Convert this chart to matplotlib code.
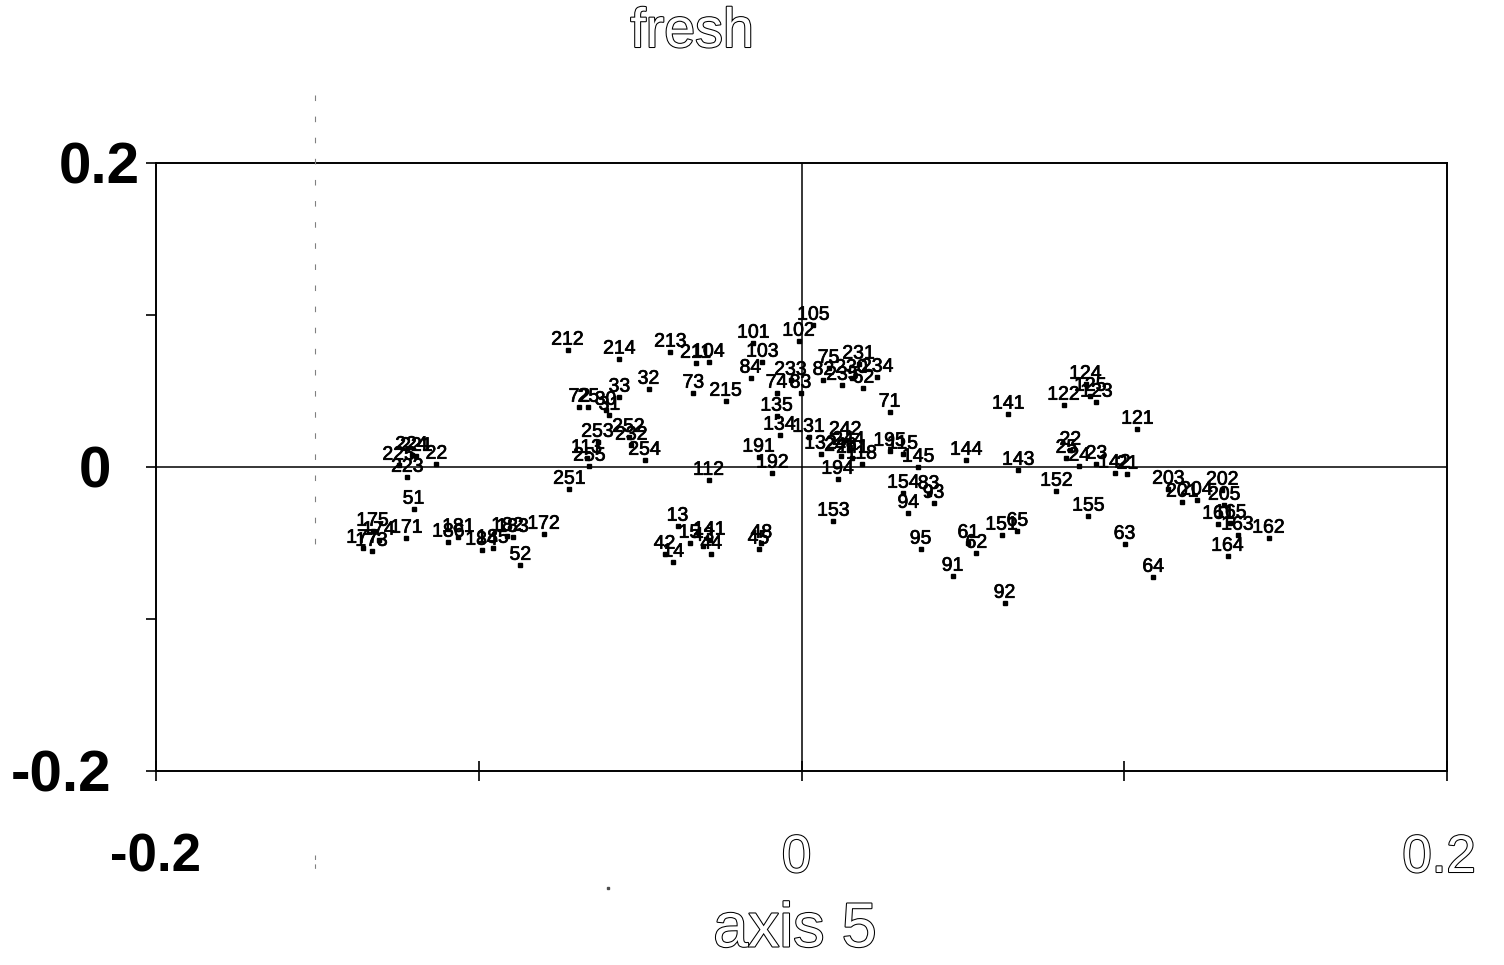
import matplotlib
matplotlib.use('Agg')
import matplotlib.pyplot as plt
import matplotlib.patheffects as pe
import matplotlib.transforms as mtransforms
from matplotlib.lines import Line2D

plt.rcParams['font.family'] = ['Liberation Sans', 'DejaVu Sans']

# ---------------- data ----------------
labels = [
    "22", "223", "224", "221", "225", "51", "171", "175", "174", "177", "173",
    "181", "186", "184", "185", "182", "183", "52", "172", "251",
    "212", "214", "213", "211", "104", "101", "103", "84", "33", "32", "73", "215",
    "72", "25", "30", "31", "253", "252", "232", "113", "255", "254", "112",
    "191", "192", "134", "135", "74", "233", "83", "102", "105",
    "13", "42", "14", "15", "141", "44", "43", "48", "45",
    "75", "231", "234", "82", "235", "62", "230", "71",
    "131", "242", "132", "246", "241", "244", "118", "195", "115", "194",
    "145", "144", "143", "141", "153", "154", "83", "93", "94", "95", "91", "92",
    "61", "62", "151", "65", "152", "155", "22", "25", "24", "23", "142", "21",
    "121", "122", "123", "124", "125", "63", "64",
    "203", "201", "204", "202", "205", "161", "165", "163", "162", "164",
]
x_vals = [
    -0.1131, -0.1221, -0.1208, -0.1193, -0.1248, -0.1202, -0.1224, -0.1329, -0.1310, -0.1360, -0.1332,
    -0.1063, -0.1094, -0.0991, -0.0957, -0.0911, -0.0895, -0.0871, -0.0799, -0.0719,
    -0.0725, -0.0564, -0.0406, -0.0328, -0.0288, -0.0149, -0.0121, -0.0158, -0.0564, -0.0474, -0.0335, -0.0235,
    -0.0688, -0.0660, -0.0607, -0.0595, -0.0632, -0.0536, -0.0527, -0.0666, -0.0657, -0.0486, -0.0288,
    -0.0133, -0.0090, -0.0068, -0.0077, -0.0077, -0.0034, -0.0003, -0.0009, 0.0037,
    -0.0384, -0.0424, -0.0397, -0.0347, -0.0285, -0.0279, -0.0304, -0.0124, -0.0133,
    0.0084, 0.0177, 0.0235, 0.0068, 0.0127, 0.0192, 0.0155, 0.0273,
    0.0022, 0.0136, 0.0059, 0.0121, 0.0158, 0.0146, 0.0186, 0.0273, 0.0313, 0.0112,
    0.0362, 0.0511, 0.0672, 0.0641, 0.0099, 0.0316, 0.0394, 0.0409, 0.0331, 0.0369, 0.0468, 0.0629,
    0.0517, 0.0542, 0.0620, 0.0669, 0.0790, 0.0889, 0.0833, 0.0821, 0.0861, 0.0914, 0.0970, 0.1010,
    0.1041, 0.0812, 0.0914, 0.0880, 0.0895, 0.1001, 0.1090,
    0.1137, 0.1180, 0.1224, 0.1304, 0.1310, 0.1292, 0.1329, 0.1351, 0.1447, 0.1320,
]
y_vals = [
    0.0020, -0.0066, 0.0079, 0.0072, 0.0013, -0.0276, -0.0467, -0.0421, -0.0480, -0.0533, -0.0553,
    -0.0461, -0.0493, -0.0546, -0.0533, -0.0454, -0.0461, -0.0645, -0.0441, -0.0145,
    0.0770, 0.0711, 0.0757, 0.0684, 0.0691, 0.0816, 0.0691, 0.0586, 0.0461, 0.0513, 0.0487, 0.0434,
    0.0395, 0.0395, 0.0375, 0.0342, 0.0164, 0.0197, 0.0145, 0.0059, 0.0007, 0.0046, -0.0086,
    0.0066, -0.0039, 0.0211, 0.0336, 0.0487, 0.0572, 0.0487, 0.0829, 0.0934,
    -0.0388, -0.0572, -0.0625, -0.0500, -0.0480, -0.0572, -0.0520, -0.0500, -0.0539,
    0.0651, 0.0678, 0.0592, 0.0572, 0.0539, 0.0520, 0.0586, 0.0362,
    0.0197, 0.0178, 0.0086, 0.0072, 0.0059, 0.0112, 0.0020, 0.0105, 0.0086, -0.0079,
    0.0000, 0.0046, -0.0020, 0.0349, -0.0355, -0.0171, -0.0178, -0.0237, -0.0303, -0.0539, -0.0717, -0.0895,
    -0.0500, -0.0566, -0.0447, -0.0421, -0.0158, -0.0322, 0.0112, 0.0059, 0.0007, 0.0020, -0.0039, -0.0046,
    0.0250, 0.0408, 0.0428, 0.0546, 0.0467, -0.0507, -0.0724,
    -0.0145, -0.0230, -0.0217, -0.0151, -0.0250, -0.0375, -0.0368, -0.0447, -0.0467, -0.0586,
]

tick_vals = [-0.2, -0.1, 0.0, 0.1, 0.2]
x_tick_text = ["-0.2", "", "0", "", "0.2"]
y_tick_text = ["-0.2", "", "0", "", "0.2"]
title = "fresh"
x_title = "axis 5"

# ---------------- figure ----------------
W, H = 1504, 965
fig = plt.figure(figsize=(W / 100, H / 100), dpi=100)
ax = fig.add_axes([156 / W, 194 / H, 1291 / W, 608 / H])
ax.set_xlim(-0.2, 0.2)
ax.set_ylim(-0.2, 0.2)

for s in ax.spines.values():
    s.set_linewidth(1.4)
    s.set_color('black')

ax.axhline(0, color='black', lw=1.1, zorder=1)
ax.axvline(0, color='black', lw=1.1, zorder=1)

ax.plot(x_vals, y_vals, linestyle='none', marker='s', ms=2.4, color='black', zorder=3)
thick = [pe.withStroke(linewidth=0.5, foreground='black')]
for lab, xv, yv in zip(labels, x_vals, y_vals):
    ax.annotate(lab, (xv, yv), xytext=(0, 3.8), textcoords='offset points',
                ha='center', va='baseline', fontsize=14, color='black', zorder=4,
                path_effects=thick)

ax.set_xticks(tick_vals)
ax.set_xticklabels([""] * len(tick_vals))
ax.set_yticks(tick_vals)
ax.set_yticklabels([""] * len(tick_vals))
ax.tick_params(axis='x', direction='inout', length=14, width=1.2)
ax.tick_params(axis='y', direction='out', length=7, width=1.2)

hollow = [pe.withStroke(linewidth=1.5, foreground='black')]

# x tick labels
xt = ax.get_xaxis_transform()
x_shift = {"-0.2": 0, "0": -5, "0.2": -8}
for v, t in zip(tick_vals, x_tick_text):
    if not t:
        continue
    off = mtransforms.ScaledTranslation(x_shift[t] / 100, -87 / 100, fig.dpi_scale_trans)
    if t.startswith('-'):
        ax.text(v, 0, t, transform=xt + off, ha='center', va='center',
                fontsize=38, fontweight='bold', color='black')
    else:
        ax.text(v, 0, t, transform=xt + off, ha='center', va='center',
                fontsize=38, color='white', path_effects=hollow)

# y tick labels
yt = ax.get_yaxis_transform()
y_right = {"0.2": -16, "0": -45, "-0.2": -45}
for v, t in zip(tick_vals, y_tick_text):
    if not t:
        continue
    off = mtransforms.ScaledTranslation(y_right[t] / 100, -6 / 100, fig.dpi_scale_trans)
    ax.text(0, v, t, transform=yt + off, ha='right', va='center',
            fontsize=42, fontweight='bold', color='black')

fig.text(692 / W, 1 - 33 / H, title, ha='center', va='center', fontsize=40,
         color='white', path_effects=hollow)
fig.text(795 / W, 1 - 930 / H, x_title, ha='center', va='center', fontsize=45,
         color='white', path_effects=hollow)

# scan artifacts (faint dashed fold line and a speck)
fig.add_artist(Line2D([315 / W, 315 / W], [1 - 95 / H, 1 - 548 / H], transform=fig.transFigure,
                      color='0.5', lw=0.8, linestyle=(0, (5, 14))))
fig.add_artist(Line2D([315 / W, 315 / W], [1 - 855 / H, 1 - 872 / H], transform=fig.transFigure,
                      color='0.5', lw=0.8, linestyle=(0, (4, 4))))
fig.add_artist(Line2D([608 / W], [1 - 888 / H], transform=fig.transFigure,
                      marker='s', ms=1.5, color='0.3', linestyle='none'))

fig.savefig('out.png', dpi=100, facecolor='white')
